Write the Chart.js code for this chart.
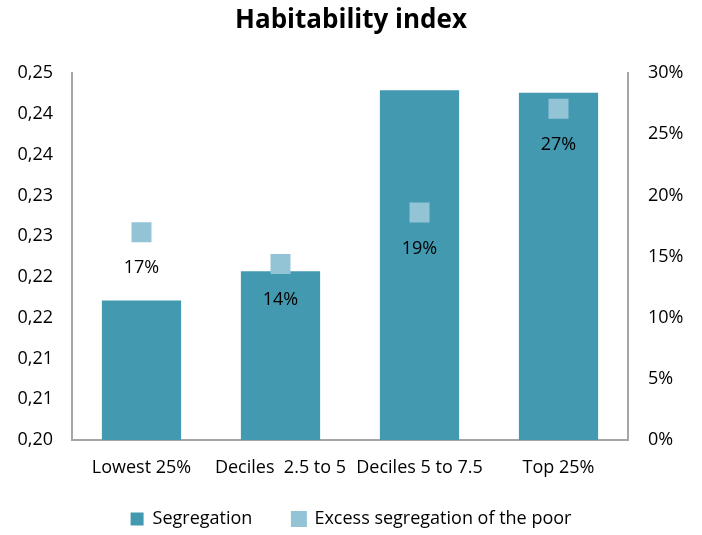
<!DOCTYPE html>
<html>
<head>
<meta charset="utf-8">
<script src="https://cdn.jsdelivr.net/npm/chart.js@4.4.1/dist/chart.umd.min.js"></script>
<style>
  html, body { margin: 0; padding: 0; background: #ffffff; }
  #wrap { width: 702px; height: 535px; }
</style>
</head>
<body>
<div id="wrap"><canvas id="c" width="702" height="535"></canvas></div>
<script>
// Income groups
const categories = ['Lowest 25%', 'Deciles  2.5 to 5', 'Deciles 5 to 7.5', 'Top 25%'];
// Segregation index (left axis)
const segregation = [0.2171, 0.2207, 0.2429, 0.2426];
// Excess segregation of the poor (right axis, share)
const excessPoor = [0.170, 0.144, 0.186, 0.271];
// Left axis tick values and their printed labels
const leftTicks = [0.200, 0.205, 0.210, 0.215, 0.220, 0.225, 0.230, 0.235, 0.240, 0.245];
const leftTickLabels = ['0,20', '0,21', '0,21', '0,22', '0,22', '0,23', '0,23', '0,24', '0,24', '0,25'];
// Right axis tick values
const rightTicks = [0, 0.05, 0.10, 0.15, 0.20, 0.25, 0.30];

const FONT = 'Open Sans, Lato, sans-serif';
const BAR = '#4399B0';
const MARK = '#93C4D6';
const AXIS = '#A6A6A6';

// Writes each point's percentage a little below its marker
const pointLabels = {
  id: 'pointLabels',
  afterDatasetsDraw(chart) {
    const ctx = chart.ctx;
    const meta = chart.getDatasetMeta(1);
    ctx.save();
    ctx.font = '18px ' + FONT;
    ctx.fillStyle = '#000000';
    ctx.textAlign = 'center';
    ctx.textBaseline = 'middle';
    meta.data.forEach((pt, i) => {
      ctx.fillText(Math.round(excessPoor[i] * 100) + '%', pt.x, pt.y + 36);
    });
    ctx.restore();
  }
};

new Chart(document.getElementById('c'), {
  data: {
    labels: categories,
    datasets: [
      {
        type: 'bar',
        label: 'Segregation',
        data: segregation,
        yAxisID: 'y',
        backgroundColor: BAR,
        borderWidth: 0,
        categoryPercentage: 1,
        barPercentage: 0.57,
        order: 2
      },
      {
        type: 'line',
        label: 'Excess segregation of the poor',
        data: excessPoor,
        yAxisID: 'y1',
        showLine: false,
        pointStyle: 'rect',
        pointRadius: 14.14,
        pointHoverRadius: 14.14,
        backgroundColor: MARK,
        borderColor: MARK,
        pointBorderWidth: 0,
        order: 1
      }
    ]
  },
  options: {
    responsive: false,
    animation: false,
    events: [],
    layout: { padding: { left: 0, right: 0, top: 0, bottom: -3 } },
    plugins: {
      title: {
        display: true,
        text: 'Habitability index',
        color: '#000000',
        font: { family: FONT, size: 26, weight: 'bold' },
        padding: { top: 5, bottom: 37 }
      },
      legend: {
        position: 'bottom',
        labels: {
          color: '#000000',
          font: { family: FONT, size: 18, lineHeight: 1 },
          boxWidth: 13,
          boxHeight: 13,
          padding: 40,
          sort: (a, b) => a.datasetIndex - b.datasetIndex
        }
      },
      tooltip: { enabled: false }
    },
    scales: {
      x: {
        grid: { display: false, drawTicks: false },
        border: { display: true, color: AXIS, width: 2 },
        ticks: { color: '#000000', font: { family: FONT, size: 18 }, padding: 17, maxRotation: 0, autoSkip: false },
        afterFit(s) {
          s.height = 30;
          // category labels hang below this short box, so they are not clipped to it
          s._computeLabelArea = () => null;
        }
      },
      y: {
        position: 'left',
        min: 0.200,
        max: 0.245,
        grid: { display: false, drawTicks: false },
        border: { display: true, color: AXIS, width: 2 },
        afterBuildTicks(s) { s.ticks = leftTicks.map(v => ({ value: v })); },
        ticks: {
          color: '#000000',
          font: { family: FONT, size: 18 },
          padding: 19,
          callback(v, i) { return leftTickLabels[i]; }
        },
        afterFit(s) { s.width = 72; }
      },
      y1: {
        position: 'right',
        min: 0,
        max: 0.30,
        grid: { display: false, drawOnChartArea: false, drawTicks: true, tickLength: 6, color: AXIS, tickWidth: 2 },
        border: { display: true, color: AXIS, width: 2 },
        afterBuildTicks(s) { s.ticks = rightTicks.map(v => ({ value: v })); },
        ticks: {
          color: '#000000',
          font: { family: FONT, size: 18 },
          padding: 14,
          callback(v) { return Math.round(v * 100) + '%'; }
        },
        afterFit(s) { s.width = 74; }
      }
    }
  },
  plugins: [pointLabels]
});
</script>
</body>
</html>
